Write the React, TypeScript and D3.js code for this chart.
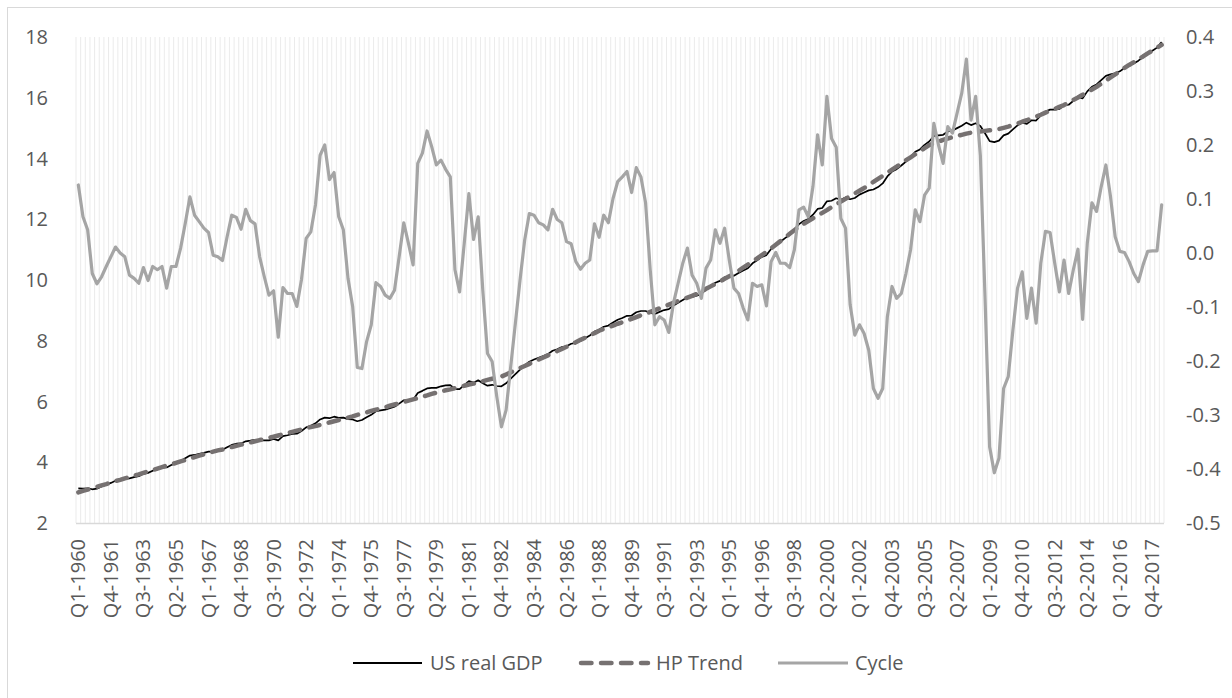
import React from "react";
import * as d3 from "d3";

// ---- data ----
const firstYear = 1960;
const quarterCount = 234; // Q1-1960 .. Q2-2018

const xTickLabels = [
  "Q1-1960","Q4-1961","Q3-1963","Q2-1965","Q1-1967","Q4-1968","Q3-1970","Q2-1972","Q1-1974",
  "Q4-1975","Q3-1977","Q2-1979","Q1-1981","Q4-1982","Q3-1984","Q2-1986","Q1-1988","Q4-1989",
  "Q3-1991","Q2-1993","Q1-1995","Q4-1996","Q3-1998","Q2-2000","Q1-2002","Q4-2003","Q3-2005",
  "Q2-2007","Q1-2009","Q4-2010","Q3-2012","Q2-2014","Q1-2016","Q4-2017",
];

const leftTicks = [2, 4, 6, 8, 10, 12, 14, 16, 18];
const rightTicks = [-0.5, -0.4, -0.3, -0.2, -0.1, 0.0, 0.1, 0.2, 0.3, 0.4];

const usRealGDP = [
  3.14,3.13,3.14,3.11,3.13,3.20,3.26,3.32,3.39,3.42,3.46,3.47,3.51,3.54,3.62,3.65,3.72,3.76,3.82,3.83,
  3.91,3.96,4.04,4.13,4.22,4.24,4.28,4.31,4.35,4.35,4.38,4.41,4.49,4.57,4.61,4.62,4.69,4.71,4.74,4.72,
  4.72,4.72,4.77,4.72,4.86,4.89,4.93,4.94,5.03,5.15,5.20,5.28,5.41,5.47,5.45,5.50,5.46,5.47,5.42,5.41,
  5.35,5.39,5.48,5.56,5.68,5.71,5.73,5.78,5.83,5.93,6.04,6.05,6.05,6.28,6.35,6.43,6.45,6.45,6.50,6.53,
  6.54,6.41,6.41,6.54,6.67,6.62,6.70,6.60,6.52,6.55,6.51,6.50,6.60,6.75,6.90,7.05,7.19,7.31,7.38,7.44,
  7.50,7.56,7.67,7.72,7.79,7.82,7.90,7.93,8.00,8.08,8.17,8.30,8.36,8.46,8.50,8.60,8.69,8.75,8.82,8.83,
  8.94,8.98,8.98,8.92,8.88,8.95,9.01,9.04,9.16,9.25,9.34,9.43,9.44,9.48,9.54,9.68,9.78,9.91,9.97,10.09,
  10.11,10.14,10.23,10.31,10.39,10.55,10.65,10.76,10.82,11.02,11.16,11.26,11.38,11.49,11.65,11.84,11.94,12.01,12.15,12.34,
  12.37,12.59,12.61,12.69,12.64,12.72,12.66,12.70,12.81,12.88,12.95,12.98,13.06,13.18,13.41,13.57,13.65,13.77,13.90,14.05,
  14.22,14.30,14.45,14.56,14.74,14.76,14.78,14.89,14.92,15.00,15.08,15.18,15.10,15.16,15.07,14.83,14.57,14.54,14.59,14.76,
  14.82,14.96,15.09,15.18,15.14,15.26,15.25,15.42,15.55,15.61,15.61,15.63,15.75,15.77,15.90,16.02,15.98,16.21,16.36,16.44,
  16.58,16.72,16.77,16.80,16.87,16.98,17.06,17.13,17.22,17.34,17.46,17.55,17.65,17.83,
];

const hpTrend = [
  3.01,3.06,3.10,3.15,3.19,3.24,3.28,3.33,3.38,3.42,3.47,3.51,3.56,3.60,3.65,3.70,3.74,3.79,3.84,3.89,
  3.93,3.98,4.03,4.07,4.12,4.17,4.22,4.26,4.31,4.35,4.39,4.42,4.46,4.50,4.54,4.58,4.61,4.65,4.69,4.73,
  4.76,4.80,4.84,4.88,4.92,4.96,5.00,5.04,5.08,5.12,5.16,5.19,5.23,5.27,5.31,5.35,5.39,5.43,5.47,5.51,
  5.56,5.60,5.64,5.69,5.73,5.77,5.81,5.86,5.90,5.94,5.98,6.03,6.07,6.11,6.16,6.20,6.25,6.29,6.33,6.37,
  6.40,6.44,6.48,6.52,6.56,6.59,6.63,6.67,6.71,6.75,6.78,6.82,6.89,6.96,7.03,7.10,7.17,7.24,7.31,7.38,
  7.45,7.52,7.59,7.66,7.73,7.80,7.88,7.95,8.03,8.10,8.18,8.25,8.33,8.39,8.44,8.50,8.56,8.61,8.67,8.72,
  8.78,8.84,8.89,8.95,9.01,9.07,9.13,9.19,9.25,9.31,9.36,9.42,9.48,9.54,9.62,9.71,9.79,9.87,9.95,10.04,
  10.12,10.20,10.30,10.41,10.51,10.61,10.71,10.82,10.92,11.04,11.16,11.28,11.40,11.52,11.64,11.76,11.85,11.94,12.03,12.12,
  12.21,12.30,12.40,12.49,12.58,12.67,12.76,12.85,12.94,13.03,13.13,13.23,13.33,13.43,13.53,13.63,13.73,13.84,13.94,14.04,
  14.14,14.24,14.34,14.44,14.50,14.56,14.61,14.66,14.70,14.74,14.78,14.82,14.85,14.87,14.89,14.91,14.93,14.95,14.97,15.01,
  15.05,15.10,15.15,15.21,15.26,15.32,15.38,15.44,15.51,15.57,15.63,15.70,15.76,15.84,15.93,16.01,16.10,16.19,16.27,16.36,
  16.46,16.56,16.67,16.77,16.87,16.98,17.08,17.17,17.27,17.36,17.46,17.55,17.65,17.74,
];

const cycle = [
  0.126,0.067,0.043,-0.038,-0.057,-0.044,-0.025,-0.007,0.011,0.000,-0.007,-0.041,-0.047,-0.056,-0.027,-0.051,-0.025,-0.031,-0.025,-0.065,
  -0.025,-0.025,0.009,0.055,0.104,0.070,0.058,0.046,0.038,-0.004,-0.007,-0.014,0.030,0.070,0.066,0.044,0.081,0.060,0.054,-0.007,
  -0.044,-0.078,-0.070,-0.156,-0.064,-0.075,-0.075,-0.099,-0.049,0.027,0.039,0.089,0.181,0.200,0.136,0.149,0.067,0.043,-0.047,-0.099,
  -0.212,-0.214,-0.164,-0.133,-0.055,-0.062,-0.078,-0.084,-0.069,-0.007,0.056,0.018,-0.022,0.166,0.185,0.226,0.197,0.163,0.172,0.155,
  0.141,-0.031,-0.072,0.018,0.110,0.025,0.067,-0.070,-0.186,-0.201,-0.266,-0.322,-0.291,-0.210,-0.130,-0.050,0.024,0.073,0.070,0.056,
  0.052,0.043,0.081,0.062,0.056,0.021,0.017,-0.016,-0.030,-0.019,-0.013,0.054,0.029,0.070,0.056,0.101,0.132,0.141,0.151,0.112,
  0.158,0.141,0.093,-0.031,-0.133,-0.118,-0.124,-0.147,-0.093,-0.056,-0.019,0.009,-0.041,-0.056,-0.084,-0.028,-0.013,0.043,0.018,0.046,
  -0.013,-0.065,-0.075,-0.102,-0.124,-0.056,-0.062,-0.059,-0.098,-0.016,0.001,-0.019,-0.019,-0.027,0.006,0.080,0.085,0.067,0.123,0.219,
  0.163,0.290,0.212,0.196,0.064,0.046,-0.096,-0.152,-0.133,-0.149,-0.180,-0.251,-0.269,-0.251,-0.118,-0.062,-0.084,-0.075,-0.038,0.006,
  0.080,0.058,0.107,0.120,0.240,0.200,0.166,0.234,0.222,0.259,0.296,0.359,0.246,0.290,0.181,-0.080,-0.359,-0.407,-0.380,-0.251,
  -0.229,-0.143,-0.065,-0.035,-0.121,-0.065,-0.130,-0.019,0.040,0.038,-0.019,-0.072,-0.013,-0.075,-0.031,0.007,-0.123,0.018,0.093,0.077,
  0.123,0.163,0.104,0.030,0.003,0.001,-0.016,-0.038,-0.053,-0.022,0.003,0.004,0.004,0.089,
];

const seriesNames = ["US real GDP", "HP Trend", "Cycle"];

// ---- layout ----
const W = 1232;
const H = 698;
const plot = { left: 76, right: 1164, top: 37, bottom: 523 };
const FONT = "'Open Sans', 'Noto Sans', sans-serif";
const TEXT = "#595959";

const quarters: string[] = [];
for (let i = 0; i < quarterCount; i++) {
  const y = firstYear + Math.floor(i / 4);
  quarters.push(`Q${(i % 4) + 1}-${y}`);
}

export default function App() {
  const x = d3.scaleBand<string>().domain(quarters).range([plot.left, plot.right]).padding(0);
  const bw = x.bandwidth();
  const cx = (i: number) => (x(quarters[i]) as number) + bw / 2;
  const yL = d3.scaleLinear().domain([2, 18]).range([plot.bottom, plot.top]);
  const yR = d3.scaleLinear().domain([-0.5, 0.4]).range([plot.bottom, plot.top]);

  const lineL = d3.line<number>().x((_, i) => cx(i)).y((d) => yL(d));
  const lineR = d3.line<number>().x((_, i) => cx(i)).y((d) => yR(d));

  const gridXs = quarters.map((q) => x(q) as number).concat([plot.right]);

  const legendY = 663;

  return (
    <svg
      width={W}
      height={H}
      style={{ position: "absolute", left: 0, top: 0, background: "#fff" }}
      fontFamily={FONT}
    >
      <rect x={0} y={0} width={W} height={H} fill="#ffffff" />
      <rect x={7.5} y={7.5} width={W + 20} height={H + 20} fill="none" stroke="#d9d9d9" strokeWidth={1} />

      {/* vertical category gridlines */}
      <g>
        {gridXs.map((gx, i) => (
          <line key={i} x1={gx} x2={gx} y1={plot.top} y2={plot.bottom} stroke="#e4e4e4" strokeWidth={0.75} />
        ))}
      </g>
      {/* category axis line */}
      <line x1={plot.left} x2={plot.right} y1={plot.bottom + 0.5} y2={plot.bottom + 0.5} stroke="#d9d9d9" strokeWidth={1.5} />

      {/* left axis labels */}
      {leftTicks.map((t) => (
        <text key={t} x={48} y={yL(t)} dy="0.35em" textAnchor="end" fontSize={20} fill={TEXT}>
          {t}
        </text>
      ))}
      {/* right axis labels */}
      {rightTicks.map((t) => (
        <text key={t} x={1186} y={yR(t)} dy="0.35em" textAnchor="start" fontSize={20} fill={TEXT}>
          {(Math.round(t * 10) / 10).toFixed(1).replace("-0.0", "0.0")}
        </text>
      ))}
      {/* x labels */}
      {xTickLabels.map((lab) => {
        const idx = quarters.indexOf(lab);
        const px = cx(idx);
        return (
          <text
            key={lab}
            transform={`translate(${px},${539}) rotate(-90)`}
            dy="0.35em"
            textAnchor="end"
            fontSize={20}
            fill={TEXT}
          >
            {lab}
          </text>
        );
      })}

      {/* series */}
      <path d={lineL(usRealGDP) || ""} fill="none" stroke="#000000" strokeWidth={1.7} strokeLinejoin="round" />
      <path
        d={lineL(hpTrend) || ""}
        fill="none"
        stroke="#767171"
        strokeWidth={4.5}
        strokeDasharray="10.5 9.5"
        strokeLinecap="round"
        strokeLinejoin="round"
      />
      <path d={lineR(cycle) || ""} fill="none" stroke="#a5a5a5" strokeWidth={3.2} strokeLinejoin="round" strokeLinecap="round" />

      {/* legend */}
      <g fontSize={20} fill={TEXT}>
        <line x1={353} x2={422} y1={legendY} y2={legendY} stroke="#000" strokeWidth={2} />
        <text x={430} y={legendY} dy="0.35em">{seriesNames[0]}</text>
        <line x1={581} x2={648} y1={legendY} y2={legendY} stroke="#767171" strokeWidth={4.5} strokeDasharray="10.5 9.5" strokeLinecap="round" />
        <text x={656} y={legendY} dy="0.35em">{seriesNames[1]}</text>
        <line x1={778} x2={848} y1={legendY} y2={legendY} stroke="#a5a5a5" strokeWidth={3.2} />
        <text x={855} y={legendY} dy="0.35em">{seriesNames[2]}</text>
      </g>
    </svg>
  );
}
